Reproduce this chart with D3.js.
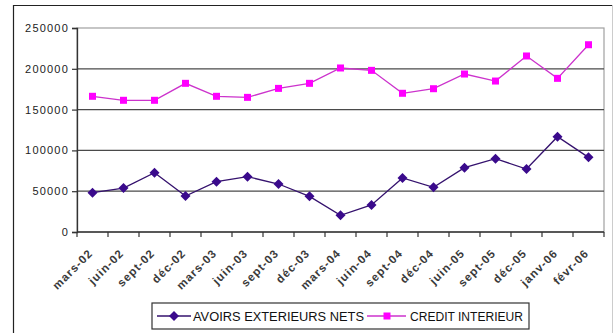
<!DOCTYPE html>
<html>
<head>
<meta charset="utf-8">
<script src="https://cdn.jsdelivr.net/npm/d3@7/dist/d3.min.js"></script>
<style>
  html, body { margin: 0; padding: 0; background: #fff; }
  svg { display: block; font-family: Arial, "Liberation Sans", sans-serif; }
</style>
</head>
<body>
<svg id="chart" width="615" height="333"></svg>
<script>
// Quarterly periods on the category axis
const categories = ["mars-02", "juin-02", "sept-02", "déc-02", "mars-03", "juin-03", "sept-03", "déc-03",
                    "mars-04", "juin-04", "sept-04", "déc-04", "juin-05", "sept-05", "déc-05", "janv-06", "févr-06"];

// Avoirs extérieurs nets
const avoirsExterieurs = [48200, 53900, 72700, 44100, 61700, 67800, 58800, 43700,
                          20400, 33100, 66200, 54800, 78800, 89800, 77200, 116800, 91500];

// Crédit intérieur
const creditInterieur = [166300, 161400, 161400, 182200, 166300, 165000, 176000, 182200,
                         201000, 198100, 170000, 175600, 193600, 185000, 215700, 188300, 229500];

const yTicks = [0, 50000, 100000, 150000, 200000, 250000];
const seriesNames = ["AVOIRS EXTERIEURS NETS", "CREDIT INTERIEUR"];

const svg = d3.select("#chart");
const plot = { left: 77, right: 604, top: 28, bottom: 232 };

const x = d3.scaleBand().domain(categories).range([plot.left, plot.right]);
const y = d3.scaleLinear().domain([0, 250000]).range([plot.bottom, plot.top]);

// Chart frame
svg.append("line").attr("x1", 13).attr("x2", 613).attr("y1", 5.5).attr("y2", 5.5)
  .attr("stroke", "#222").attr("stroke-width", 1.2);
svg.append("line").attr("x1", 13.5).attr("x2", 13.5).attr("y1", 5).attr("y2", 333)
  .attr("stroke", "#222").attr("stroke-width", 1.2);
svg.append("line").attr("x1", 612.5).attr("x2", 612.5).attr("y1", 5).attr("y2", 333)
  .attr("stroke", "#ccc").attr("stroke-width", 1);

// Plot area border (top and right)
svg.append("rect")
  .attr("x", plot.left).attr("y", plot.top)
  .attr("width", plot.right - plot.left).attr("height", plot.bottom - plot.top)
  .attr("fill", "#fff").attr("stroke", "#a0a0a0").attr("stroke-width", 1.2);

// Horizontal gridlines
svg.append("g")
  .selectAll("line")
  .data(yTicks.filter(d => d > 0 && d < 250000))
  .join("line")
  .attr("x1", plot.left).attr("x2", plot.right)
  .attr("y1", d => y(d)).attr("y2", d => y(d))
  .attr("stroke", "#4a4a4a").attr("stroke-width", 1.3);

// Y axis
const yAxis = svg.append("g")
  .attr("transform", `translate(${plot.left},0)`)
  .call(d3.axisLeft(y).tickValues(yTicks).tickSize(5).tickPadding(3).tickFormat(d3.format("d")));
yAxis.select(".domain").attr("stroke", "#333").attr("stroke-width", 1.3);
yAxis.selectAll(".tick line").attr("stroke", "#333").attr("stroke-width", 1.2);
yAxis.selectAll(".tick text").attr("font-size", 11).attr("fill", "#222")
  .attr("letter-spacing", 1.2)
  .attr("font-family", "Arial, 'Liberation Sans', sans-serif");

// X axis: ticks at category boundaries, labels rotated
const xAxisG = svg.append("g").attr("transform", `translate(0,${plot.bottom})`);
xAxisG.append("line").attr("x1", plot.left).attr("x2", plot.right).attr("y1", 0).attr("y2", 0)
  .attr("stroke", "#333").attr("stroke-width", 1.3);
const boundaries = categories.map(c => x(c)).concat([plot.right]);
xAxisG.selectAll("line.tick")
  .data(boundaries)
  .join("line").attr("class", "tick")
  .attr("x1", d => d).attr("x2", d => d).attr("y1", 0).attr("y2", 5)
  .attr("stroke", "#333").attr("stroke-width", 1.2);
xAxisG.selectAll("text")
  .data(categories)
  .join("text")
  .attr("transform", d => `translate(${x(d) + x.bandwidth() / 2 + 1},${22}) rotate(-45)`)
  .attr("text-anchor", "end")
  .attr("font-size", 11.5)
  .attr("font-weight", "bold")
  .attr("letter-spacing", 1)
  .attr("fill", "#3a3a3a")
  .text(d => d);

// Series lines and markers
const cx = d => x(d) + x.bandwidth() / 2;
const lineGen = vals => d3.line().x((v, i) => cx(categories[i])).y(v => y(v))(vals);

const colors = { avoirs: { line: "#35126e", mark: "#3a0a8c" }, credit: { line: "#cc33cc", mark: "#ff00ff" } };

svg.append("path").attr("d", lineGen(avoirsExterieurs))
  .attr("fill", "none").attr("stroke", colors.avoirs.line).attr("stroke-width", 1.3);
svg.append("path").attr("d", lineGen(creditInterieur))
  .attr("fill", "none").attr("stroke", colors.credit.line).attr("stroke-width", 1.3);

svg.append("g").selectAll("path")
  .data(avoirsExterieurs)
  .join("path")
  .attr("d", "M0,-5L5,0L0,5L-5,0Z")
  .attr("transform", (v, i) => `translate(${cx(categories[i])},${y(v)})`)
  .attr("fill", colors.avoirs.mark);

svg.append("g").selectAll("rect")
  .data(creditInterieur)
  .join("rect")
  .attr("x", (v, i) => cx(categories[i]) - 3.5)
  .attr("y", v => y(v) - 3.5)
  .attr("width", 7).attr("height", 7)
  .attr("fill", colors.credit.mark);

// Legend
const legend = svg.append("g");
legend.append("rect").attr("x", 152).attr("y", 303).attr("width", 377).attr("height", 26)
  .attr("fill", "#fff").attr("stroke", "#333").attr("stroke-width", 1.2);

const lg1 = legend.append("g");
lg1.append("line").attr("x1", 157).attr("x2", 191).attr("y1", 316).attr("y2", 316)
  .attr("stroke", colors.avoirs.line).attr("stroke-width", 1.3);
lg1.append("path").attr("d", "M0,-5L5,0L0,5L-5,0Z").attr("transform", "translate(174,316)")
  .attr("fill", colors.avoirs.mark);
lg1.append("text").attr("x", 193).attr("y", 320.5).attr("font-size", 12).attr("fill", "#111")
  .attr("textLength", 171).attr("lengthAdjust", "spacingAndGlyphs")
  .text(seriesNames[0]);

const lg2 = legend.append("g");
lg2.append("line").attr("x1", 367).attr("x2", 406).attr("y1", 316).attr("y2", 316)
  .attr("stroke", colors.credit.line).attr("stroke-width", 1.3);
lg2.append("rect").attr("x", 383.5).attr("y", 312.5).attr("width", 7).attr("height", 7)
  .attr("fill", colors.credit.mark);
lg2.append("text").attr("x", 410).attr("y", 320.5).attr("font-size", 12).attr("fill", "#111")
  .attr("textLength", 113).attr("lengthAdjust", "spacingAndGlyphs")
  .text(seriesNames[1]);
</script>
</body>
</html>
